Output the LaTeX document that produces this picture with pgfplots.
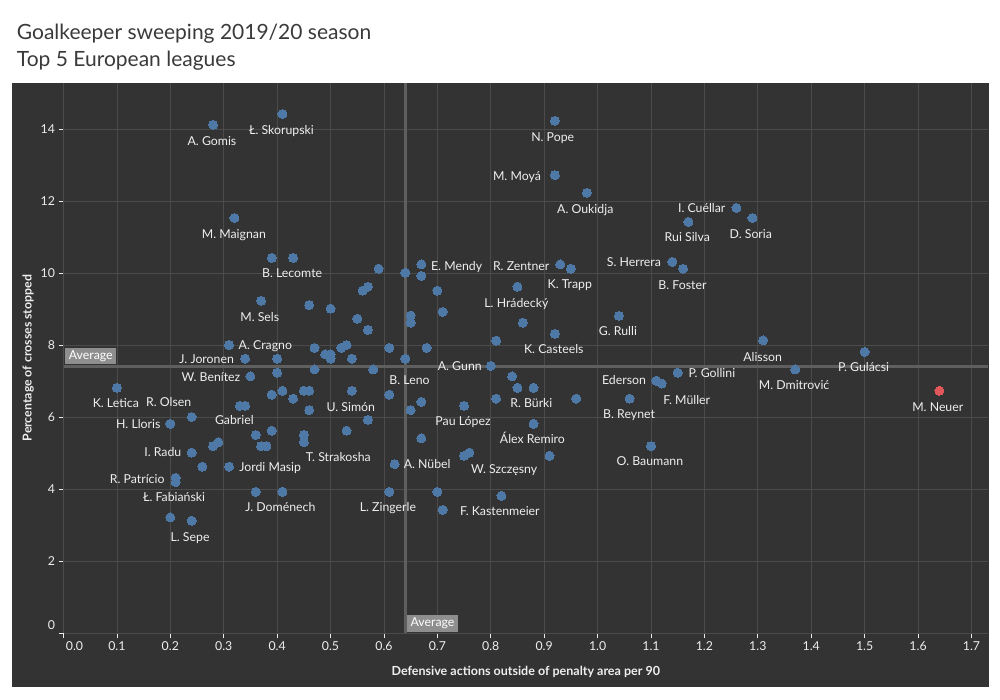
\documentclass[border=0pt]{standalone}
\usepackage{fontspec}
\setmainfont{Lato}
\usepackage{pgfplots}
\pgfplotsset{compat=1.18}
\usepackage{pgfplotstable}
\definecolor{bg}{HTML}{333333}
\definecolor{gridc}{HTML}{4B4B4B}
\definecolor{meanc}{HTML}{5F5F5F}
\definecolor{avgbox}{HTML}{8E8E8E}
\definecolor{ptblue}{HTML}{4E79A7}
\definecolor{ptred}{HTML}{E15759}
\definecolor{txt}{HTML}{EEEEEE}
\definecolor{ttl}{HTML}{3A3A3A}

\pgfplotstableread{
x y
0.28 14.13
0.41 14.43
0.32 11.54
0.39 10.43
0.43 10.43
0.37 9.24
0.46 9.12
0.50 9.02
0.31 8.01
0.47 7.93
0.49 7.75
0.50 7.75
0.50 7.63
0.52 7.93
0.53 8.01
0.34 7.63
0.40 7.63
0.47 7.33
0.40 7.24
0.35 7.14
0.10 6.82
0.39 6.63
0.41 6.74
0.43 6.52
0.45 6.74
0.46 6.74
0.54 6.74
0.33 6.32
0.34 6.32
0.46 6.20
0.24 6.01
0.20 5.82
0.36 5.51
0.39 5.63
0.45 5.51
0.45 5.31
0.53 5.63
0.28 5.20
0.29 5.31
0.37 5.20
0.38 5.20
0.24 5.02
0.26 4.63
0.31 4.63
0.21 4.32
0.21 4.20
0.36 3.93
0.41 3.93
0.20 3.22
0.24 3.13
0.92 14.24
0.92 12.73
0.98 12.24
0.59 10.13
0.64 10.02
0.67 10.25
0.67 9.93
0.93 10.25
0.95 10.13
0.56 9.52
0.57 9.63
0.70 9.52
0.85 9.63
0.71 8.93
0.55 8.74
0.65 8.83
0.65 8.63
0.57 8.43
0.86 8.63
1.04 8.82
0.92 8.32
0.81 8.13
0.54 7.63
0.61 7.93
0.68 7.93
0.64 7.63
0.58 7.33
0.80 7.43
0.84 7.14
1.11 7.02
0.61 6.63
0.85 6.82
0.88 6.82
0.67 6.43
0.65 6.20
0.75 6.32
0.81 6.52
0.96 6.52
1.06 6.52
0.57 5.93
0.88 5.82
0.67 5.42
0.75 4.93
0.76 5.02
0.91 4.93
1.10 5.20
0.62 4.70
0.61 3.93
0.70 3.93
0.71 3.43
0.82 3.82
1.26 11.82
1.29 11.54
1.17 11.43
1.14 10.32
1.16 10.13
1.31 8.14
1.50 7.82
1.37 7.33
1.15 7.24
1.12 6.94
}\keepers

\pgfplotstableread{
x y
1.64 6.74
}\neuer

\pgfplotstableread{
x y
0.64 0
0.64 15.29
}\meanx

\pgfplotstableread{
x y
0 7.42
1.731 7.42
}\meany

\begin{document}
\begin{tikzpicture}[x=1pt,y=1pt,
  lbl/.style={anchor=base, yshift=-4.3pt, inner sep=0pt, font=\fontsize{12.3}{12}\selectfont, text=txt}]
\path[use as bounding box] (0pt,0pt) rectangle (1000pt,-700pt);
\fill[bg] (12pt,-82.7pt) rectangle (989pt,-687pt);
\node[anchor=base west, font=\fontsize{21}{22}\selectfont, text=ttl, inner sep=0] at (16.7pt,-40pt) {Goalkeeper sweeping 2019/20 season};
\node[anchor=base west, font=\fontsize{21}{22}\selectfont, text=ttl, inner sep=0] at (16.7pt,-66.7pt) {Top 5 European leagues};
\begin{axis}[
  at={(63.5pt,-633.3pt)}, anchor=south west,
  scale only axis, width=924.5pt, height=550.3pt,
  xmin=0, xmax=1.731, ymin=0, ymax=15.29,
  axis x line*=bottom, axis y line*=left,
  axis line style={white!92!black, line width=1pt},
  grid=major,
  major grid style={gridc, line width=0.8pt},
  tick align=outside, major tick length=5pt,
  tick style={white!92!black, line width=0.8pt},
  xtick={0.1,0.2,0.3,0.4,0.5,0.6,0.7,0.8,0.9,1.0,1.1,1.2,1.3,1.4,1.5,1.6,1.7},
  xticklabels={0.1,0.2,0.3,0.4,0.5,0.6,0.7,0.8,0.9,1.0,1.1,1.2,1.3,1.4,1.5,1.6,1.7},
  ytick={2,4,6,8,10,12,14},
  extra x ticks={0}, extra x tick labels={0.0},
  extra x tick style={xticklabel style={xshift=11pt}},
  extra y ticks={0}, extra y tick labels={0},
  extra y tick style={yticklabel style={yshift=8pt}},
  ticklabel style={font=\fontsize{12.3}{12}\selectfont, text=txt},
  /pgf/number format/assume math mode=true,
  xlabel={Defensive actions outside of penalty area per 90},
  ylabel={Percentage of crosses stopped},
  xlabel style={at={(axis description cs:0.5,-0.0709)}, anchor=center, font=\fontsize{12.5}{12}\selectfont\bfseries, text=txt},
  ylabel style={at={(axis description cs:-0.0381,0.5)}, anchor=center, font=\fontsize{12.3}{12}\selectfont\bfseries, text=txt},
  clip=false,
]
\addplot[meanc, line width=2.6pt, no marks] table {\meanx};
\addplot[meanc, line width=2.6pt, no marks] table {\meany};
\addplot[only marks, mark=*, mark size=4.5pt, mark options={fill=ptblue, draw=ptblue, line width=0pt}] table {\keepers};
\addplot[only marks, mark=*, mark size=4.5pt, mark options={fill=ptred, draw=ptred, line width=0pt}] table {\neuer};

\node[anchor=south west, fill=avgbox, text=white, inner xsep=3.5pt, inner ysep=0pt, minimum height=16.5pt, font=\fontsize{12.3}{12}\selectfont, xshift=1.7pt, yshift=2pt] at (axis cs:0,7.42) {Average};
\node[anchor=south west, fill=avgbox, text=white, inner xsep=3.5pt, inner ysep=0pt, minimum height=16.5pt, font=\fontsize{12.3}{12}\selectfont, xshift=1.6pt, yshift=1.6pt] at (axis cs:0.64,0) {Average};

\node[lbl] at (axis cs:0.278,13.68) {A. Gomis};
\node[lbl] at (axis cs:0.408,13.98) {Ł. Skorupski};
\node[lbl] at (axis cs:0.916,13.79) {N. Pope};
\node[lbl] at (axis cs:0.849,12.71) {M. Moyá};
\node[lbl] at (axis cs:0.977,11.79) {A. Oukidja};
\node[lbl] at (axis cs:1.195,11.82) {I. Cuéllar};
\node[lbl] at (axis cs:1.168,11.00) {Rui Silva};
\node[lbl] at (axis cs:1.287,11.10) {D. Soria};
\node[lbl] at (axis cs:0.319,11.10) {M. Maignan};
\node[lbl] at (axis cs:0.428,10.00) {B. Lecomte};
\node[lbl] at (axis cs:0.736,10.21) {E. Mendy};
\node[lbl] at (axis cs:0.857,10.21) {R. Zentner};
\node[lbl] at (axis cs:0.948,9.69) {K. Trapp};
\node[lbl] at (axis cs:1.068,10.32) {S. Herrera};
\node[lbl] at (axis cs:1.159,9.68) {B. Foster};
\node[lbl] at (axis cs:0.848,9.18) {L. Hrádecký};
\node[lbl] at (axis cs:0.3675,8.79) {M. Sels};
\node[lbl] at (axis cs:1.038,8.38) {G. Rulli};
\node[lbl] at (axis cs:0.378,8.01) {A. Cragno};
\node[lbl] at (axis cs:0.918,7.89) {K. Casteels};
\node[lbl] at (axis cs:0.268,7.61) {J. Joronen};
\node[lbl] at (axis cs:1.309,7.68) {Alisson};
\node[lbl] at (axis cs:0.742,7.43) {A. Gunn};
\node[lbl] at (axis cs:1.498,7.39) {P. Gulácsi};
\node[lbl] at (axis cs:0.276,7.11) {W. Benítez};
\node[lbl] at (axis cs:0.648,7.04) {B. Leno};
\node[lbl] at (axis cs:1.0495,7.02) {Ederson};
\node[lbl] at (axis cs:1.214,7.22) {P. Gollini};
\node[lbl] at (axis cs:1.368,6.88) {M. Dmitrović};
\node[lbl] at (axis cs:0.098,6.39) {K. Letica};
\node[lbl] at (axis cs:0.197,6.43) {R. Olsen};
\node[lbl] at (axis cs:0.538,6.29) {U. Simón};
\node[lbl] at (axis cs:0.876,6.39) {R. Bürki};
\node[lbl] at (axis cs:1.059,6.08) {B. Reynet};
\node[lbl] at (axis cs:1.167,6.48) {F. Müller};
\node[lbl] at (axis cs:1.637,6.29) {M. Neuer};
\node[lbl] at (axis cs:0.320,5.93) {Gabriel};
\node[lbl] at (axis cs:0.140,5.82) {H. Lloris};
\node[lbl] at (axis cs:0.748,5.88) {Pau López};
\node[lbl] at (axis cs:0.878,5.39) {Álex Remiro};
\node[lbl] at (axis cs:0.5145,4.88) {T. Strakosha};
\node[lbl] at (axis cs:0.681,4.70) {A. Nübel};
\node[lbl] at (axis cs:0.825,4.57) {W. Szczęsny};
\node[lbl] at (axis cs:1.098,4.77) {O. Baumann};
\node[lbl] at (axis cs:0.186,5.02) {I. Radu};
\node[lbl] at (axis cs:0.387,4.61) {Jordi Masip};
\node[lbl] at (axis cs:0.138,4.29) {R. Patrício};
\node[lbl] at (axis cs:0.207,3.78) {Ł. Fabiański};
\node[lbl] at (axis cs:0.406,3.50) {J. Doménech};
\node[lbl] at (axis cs:0.6075,3.49) {L. Zingerle};
\node[lbl] at (axis cs:0.817,3.38) {F. Kastenmeier};
\node[lbl] at (axis cs:0.237,2.68) {L. Sepe};
\end{axis}
\end{tikzpicture}
\end{document}
